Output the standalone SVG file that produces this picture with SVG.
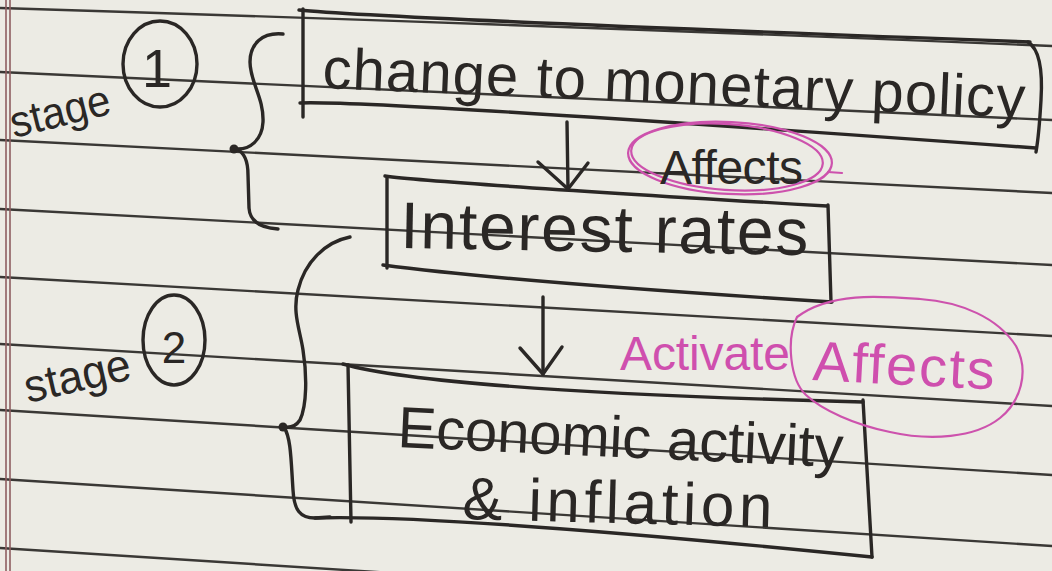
<svg xmlns="http://www.w3.org/2000/svg" width="1052" height="571" viewBox="0 0 1052 571">
  <defs>
    <style>
      .rule { fill: none; stroke: #3a3835; stroke-width: 2.4; stroke-linecap: round; }
      .margin { fill: none; stroke: #8e5e60; stroke-width: 1.6; }
      .ink { fill: none; stroke: #2a2725; stroke-width: 3.4; stroke-linecap: round; stroke-linejoin: round; }
      .pinkline { fill: none; stroke: #cd52ad; stroke-width: 2.2; stroke-linecap: round; stroke-linejoin: round; }
      .txt { font-family: "Liberation Sans", "DejaVu Sans", sans-serif; fill: #2a2725; }
      .pinktxt { font-family: "Liberation Sans", "DejaVu Sans", sans-serif; fill: #cf4fae; }
    </style>
  </defs>

  <!-- paper -->
  <rect x="0" y="0" width="1052" height="571" fill="#ecebe4"/>

  <!-- ruled lines -->
  <g id="ruled-lines">
    <path class="rule" d="M0,8 Q520,24 1052,46"/>
    <path class="rule" d="M0,72 Q520,94 1052,120"/>
    <path class="rule" d="M0,140 Q520,164 1052,193"/>
    <path class="rule" d="M0,209 Q520,235 1052,265"/>
    <path class="rule" d="M0,277 Q520,308 1052,336"/>
    <path class="rule" d="M0,344 Q520,375 1052,406"/>
    <path class="rule" d="M0,410 Q520,442 1052,475"/>
    <path class="rule" d="M0,479 Q520,512 1052,546"/>
    <path class="rule" d="M0,548 Q520,582 1052,615"/>
    <path class="margin" d="M6,0 L6,571"/>
    <path class="margin" d="M10,0 L10,571"/>
  </g>

  <!-- stage labels -->
  <g id="stage1">
    <text class="txt" x="14" y="138" font-size="44" textLength="102" lengthAdjust="spacingAndGlyphs" transform="rotate(-14 14 138)">stage</text>
    <ellipse class="ink" cx="160" cy="64" rx="37" ry="43" stroke-width="3"/>
    <text class="txt" x="157" y="87" font-size="54" text-anchor="middle">1</text>
  </g>
  <g id="stage2">
    <text class="txt" x="28" y="403" font-size="46" textLength="108" lengthAdjust="spacingAndGlyphs" transform="rotate(-13 28 403)">stage</text>
    <ellipse class="ink" cx="174" cy="340" rx="31" ry="45" stroke-width="3"/>
    <text class="txt" x="174" y="363" font-size="44" text-anchor="middle">2</text>
  </g>

  <!-- nodes -->
  <g id="node-monetary-policy">
    <path class="ink" d="M303,9 L303,117"/>
    <path class="ink" d="M299,10 Q375,18 1030,42"/>
    <path class="ink" d="M1028,42 Q1044,52 1041,100 Q1039,135 1036,152"/>
    <path class="ink" d="M300,103 Q372,100 1036,148"/>
    <text class="txt" x="322" y="88" font-size="58" textLength="703" lengthAdjust="spacing" transform="rotate(2.4 322 88)">change to monetary policy</text>
  </g>

  <g id="node-interest-rates">
    <path class="ink" d="M387,178 L387,268"/>
    <path class="ink" d="M385,176 Q434,183 827,206"/>
    <path class="ink" d="M828,205 L831,302"/>
    <path class="ink" d="M383,265 Q512,282 832,302"/>
    <text class="txt" x="400" y="248" font-size="66" textLength="408" lengthAdjust="spacing" transform="rotate(1 400 248)">Interest rates</text>
  </g>

  <g id="node-economic-activity">
    <path class="ink" d="M348,365 L351,522"/>
    <path class="ink" d="M343,364 Q437,391 863,402"/>
    <path class="ink" d="M863,400 L872,557"/>
    <path class="ink" d="M315,518 Q446,514 872,557"/>
    <text class="txt" x="397" y="447" font-size="58" textLength="446" lengthAdjust="spacing" transform="rotate(2.6 397 447)">Economic activity</text>
    <text class="txt" x="462" y="519" font-size="60" textLength="310" lengthAdjust="spacing" transform="rotate(1.5 462 519)">&amp; inflation</text>
  </g>

  <!-- edge labels -->
  <g id="label-affects-1">
    <ellipse class="pinkline" cx="730" cy="158" rx="102" ry="36" transform="rotate(3 730 158)"/>
    <ellipse class="pinkline" cx="727" cy="157" rx="96" ry="33" transform="rotate(4 727 157)"/>
    <path class="pinkline" d="M828,172 L842,173"/>
    <text class="txt" x="660" y="184" font-size="48" textLength="143" lengthAdjust="spacing">Affects</text>
  </g>

  <g id="label-affects-2">
    <text class="pinktxt" x="620" y="370" font-size="48" textLength="170" lengthAdjust="spacing">Activate</text>
    <path class="pinkline" d="M797,317 C830,292 880,296 920,299 C962,302 998,318 1016,346 C1030,372 1020,402 1000,418 C975,438 930,441 890,432 C855,425 822,410 806,395 C790,380 786,340 797,317 Z"/>
    <text class="pinktxt" x="812" y="380" font-size="56" textLength="182" lengthAdjust="spacing" transform="rotate(3 812 380)">Affects</text>
  </g>

  <!-- connectors -->
  <g id="connectors">
    <!-- arrow policy -> rates -->
    <path class="ink" d="M567,122 L568,189"/>
    <path class="ink" d="M538,162 L568,189 L588,163"/>
    <!-- arrow rates -> economy -->
    <path class="ink" d="M543,297 L543,374"/>
    <path class="ink" d="M520,348 L543,374 L562,347"/>
    <!-- brace stage 1 -->
    <path class="ink" d="M283,34 C262,32 250,44 250,62 C250,82 264,98 263,122 C262,140 250,150 236,149 C244,152 248,160 248,175 L249,208 C250,222 262,228 278,229"/>
    <circle cx="234" cy="149" r="4.5" fill="#2a2725"/>
    <!-- brace stage 2 -->
    <path class="ink" d="M350,237 C325,242 305,262 298,290 C292,312 300,330 303,350 C307,375 307,405 300,420 C296,426 290,428 284,427 C291,438 291,460 293,490 C294,510 300,518 315,518 L330,517"/>
    <circle cx="283" cy="427" r="4.5" fill="#2a2725"/>
  </g>
</svg>
